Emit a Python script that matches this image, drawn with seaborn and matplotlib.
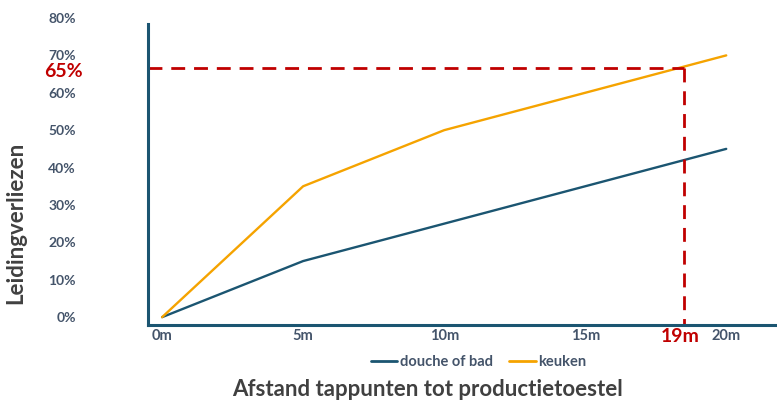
import matplotlib
matplotlib.use("Agg")
import matplotlib.pyplot as plt
import seaborn as sns
import pandas as pd
from matplotlib.lines import Line2D

afstand = [0, 5, 10, 15, 20]
x_labels = ["0m", "5m", "10m", "15m", "20m"]
douche_of_bad = [0, 15, 25, 35, 45]
keuken = [0, 35, 50, 60, 70]
y_ticks = [0, 10, 20, 30, 40, 50, 60, 70, 80]
marker_x = 18.5
marker_y = 66.6
marker_x_label = "19m"
marker_y_label = "65%"

sns.set_style("white")
plt.rcParams["font.family"] = ["Lato", "DejaVu Sans"]

df = pd.DataFrame({
    "afstand": afstand * 2,
    "verlies": douche_of_bad + keuken,
    "serie": ["douche of bad"] * 5 + ["keuken"] * 5,
})

c_blue = "#1B5571"
c_orange = "#F5A300"
c_red = "#C00000"
c_text = "#44546A"
c_title = "#404040"

fig = plt.figure(figsize=(7.77, 4.01), dpi=100)
ax = fig.add_axes([148 / 777, 1 - 325 / 401, 1 - 148 / 777, (325 - 18) / 401])
sns.lineplot(data=df, x="afstand", y="verlies", hue="serie",
             palette={"douche of bad": c_blue, "keuken": c_orange},
             linewidth=1.7, ax=ax, legend=False)

ax.set_xlim(-0.5, 21.8)
ax.set_ylim(-2.1, 80)

for s in ["top", "right"]:
    ax.spines[s].set_visible(False)
for s in ["left", "bottom"]:
    ax.spines[s].set_color(c_blue)
    ax.spines[s].set_linewidth(2.2)
ax.spines["left"].set_bounds(-2.1, 78.3)

ax.set_xticks(afstand)
ax.set_xticklabels(x_labels, fontsize=10.5, fontweight="bold", color=c_text)
ax.set_yticks(y_ticks)
ax.set_yticklabels([f"{v}%" for v in y_ticks], fontsize=10, fontweight="bold", color=c_text)
ax.tick_params(axis="x", length=0, pad=3)
ax.tick_params(axis="y", length=0, pad=52)
ax.grid(False)

# red dashed guide lines
ax.plot([-0.5, marker_x], [marker_y, marker_y], color=c_red, linestyle=(0, (5, 3.2)), linewidth=2)
ax.plot([marker_x, marker_x], [marker_y, -2.1], color=c_red, linestyle=(0, (5, 3.2)), linewidth=2)
ax.text(-3.5, marker_y - 0.8, marker_y_label, color=c_red, fontsize=14, fontweight="bold",
        ha="center", va="center")
ax.text(marker_x - 0.12, -5.1, marker_x_label, color=c_red, fontsize=14, fontweight="bold",
        ha="center", va="center")

ax.set_xlabel("Afstand tappunten tot productietoestel", fontsize=16, fontweight="bold",
              color=c_title)
ax.xaxis.set_label_coords(0.444, -0.175)
ax.set_ylabel("Leidingverliezen", fontsize=16, fontweight="bold", color=c_title)
ax.yaxis.set_label_coords(-0.194, 0.334)

handles = [Line2D([], [], color=c_blue, linewidth=2), Line2D([], [], color=c_orange, linewidth=2)]
fig.legend(handles, ["douche of bad", "keuken"], loc="center", bbox_to_anchor=(479 / 777, 1 - 362 / 401),
           ncol=2, frameon=False, handlelength=1.8, handletextpad=0.2, columnspacing=1.1,
           prop={"weight": "bold", "size": 10.5}, labelcolor=c_text)

fig.savefig("out.png", dpi=100)
